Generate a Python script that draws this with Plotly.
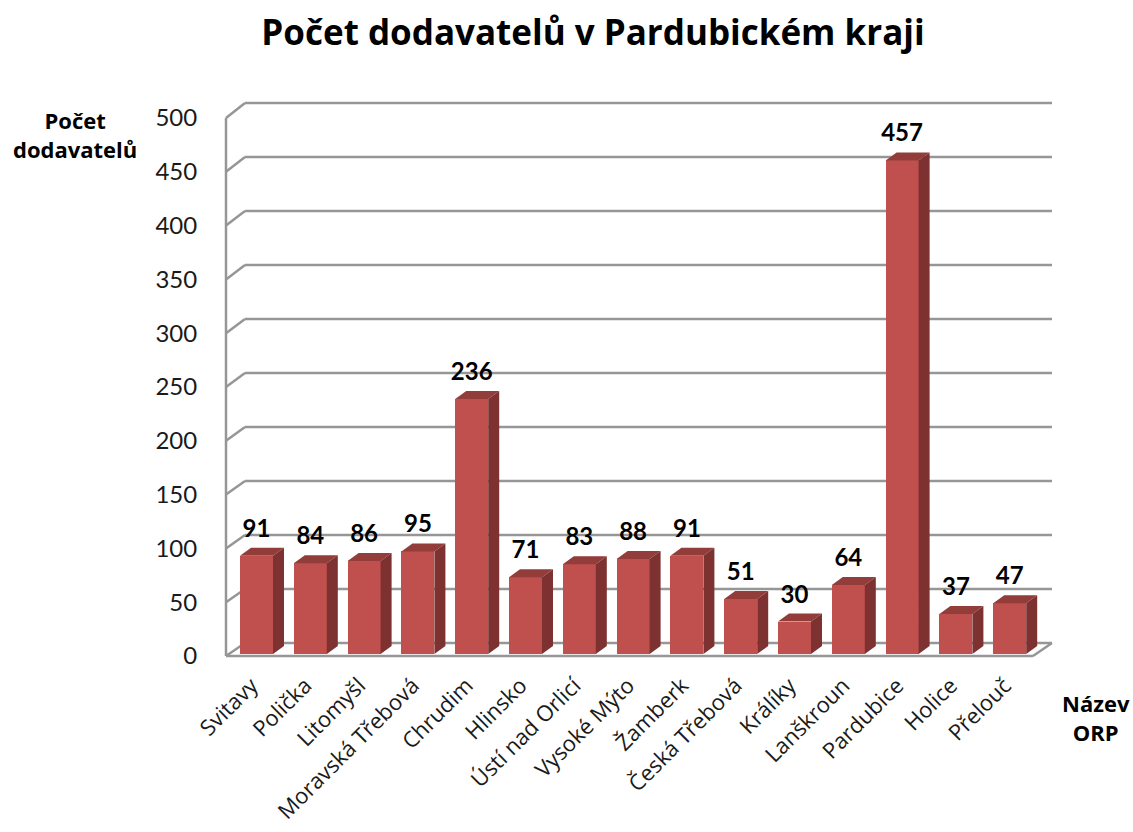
import plotly.graph_objects as go

categories = ["Svitavy", "Polička", "Litomyšl", "Moravská Třebová", "Chrudim", "Hlinsko",
              "Ústí nad Orlicí", "Vysoké Mýto", "Žamberk", "Česká Třebová", "Králíky",
              "Lanškroun", "Pardubice", "Holice", "Přelouč"]
values = [91, 84, 86, 95, 236, 71, 83, 88, 91, 51, 30, 64, 457, 37, 47]
y_ticks = [0, 50, 100, 150, 200, 250, 300, 350, 400, 450, 500]

TITLE = "Počet dodavatelů v Pardubickém kraji"
Y_NAME = "Počet<br>dodavatelů"
X_NAME = "Název<br>ORP"

# geometry of the pseudo-3D look (pixels)
L, R, T, B = 215, 1060, 95, 662
PX_CAT, X0 = 53.8, 256.5       # px per category, px of category 0
PX_VAL, Y0 = 1.08, 654         # px per value, px of value 0 for the bars
TICK_PX, TICK_Y0 = 1.076, 656  # tick-label axis, front of the box
BAR_W = 33 / PX_CAT
DX_BAR, DY_BAR = 11 / PX_CAT, 8 / PX_VAL
FRONT_X, BACK_X, END_FRONT, END_BACK = [(p - X0) / PX_CAT for p in (226, 245, 1033, 1052)]
BACK_DY = 11 / PX_VAL
LABEL_SHIFT = 5 / PX_CAT

xr = [(L - X0) / PX_CAT, (R - X0) / PX_CAT]
yr = [(Y0 - B) / PX_VAL, (Y0 - T) / PX_VAL]
y2r = [(TICK_Y0 - B) / TICK_PX, (TICK_Y0 - T) / TICK_PX]


def front_y(v):
    return (Y0 - (TICK_Y0 - TICK_PX * v)) / PX_VAL


GRID = "#969696"
FONT = "Lato, Carlito, sans-serif"
WIDE = "'Open Sans', sans-serif"
line = dict(color=GRID, width=2.5)
shapes = []


def seg(x0, y0, x1, y1):
    shapes.append(dict(type="line", xref="x", yref="y", x0=x0, y0=y0, x1=x1, y1=y1,
                       line=line, layer="below"))


for v in y_ticks:
    seg(FRONT_X, front_y(v), BACK_X, v + BACK_DY)
    seg(BACK_X, v + BACK_DY, END_BACK, v + BACK_DY)
seg(FRONT_X, front_y(0), FRONT_X, front_y(500))
seg(FRONT_X, front_y(0), END_FRONT, front_y(0))
seg(END_FRONT, front_y(0), END_BACK, BACK_DY)

xs = list(range(len(categories)))
fig = go.Figure()
fig.add_bar(x=xs, y=values, width=BAR_W, marker=dict(color="#C0504D", line=dict(width=0)),
            showlegend=False, hoverinfo="skip")

top_x, top_y, side_x, side_y = [], [], [], []
for i, v in zip(xs, values):
    a, b = i - BAR_W / 2, i + BAR_W / 2
    top_x += [a, b, b + DX_BAR, a + DX_BAR, a, None]
    top_y += [v, v, v + DY_BAR, v + DY_BAR, v, None]
    side_x += [b, b + DX_BAR, b + DX_BAR, b, b, None]
    side_y += [0, DY_BAR, v + DY_BAR, v, 0, None]
fig.add_scatter(x=top_x, y=top_y, mode="lines", fill="toself", fillcolor="#933D3B",
                line=dict(width=0), showlegend=False, hoverinfo="skip")
fig.add_scatter(x=side_x, y=side_y, mode="lines", fill="toself", fillcolor="#7D3130",
                line=dict(width=0), showlegend=False, hoverinfo="skip")
fig.add_scatter(x=xs, y=[v + 12 for v in values], mode="text", text=[str(v) for v in values],
                textposition="top center",
                textfont=dict(family=FONT, size=24, color="#000000", weight="bold"),
                showlegend=False, hoverinfo="skip", cliponaxis=False)
# invisible trace that carries the tick-label axis
fig.add_scatter(x=[xs[0]], y=[0], yaxis="y2", mode="markers", marker=dict(opacity=0),
                showlegend=False, hoverinfo="skip")

fig.update_layout(
    width=1133, height=832, autosize=False,
    margin=dict(l=L, r=1133 - R, t=T, b=832 - B, pad=0, autoexpand=False),
    plot_bgcolor="white", paper_bgcolor="white",
    bargap=0,
    shapes=shapes,
    font=dict(family=FONT, color="#1a1a1a"),
    title=dict(text=TITLE, x=593 / 1133, y=1 - 33 / 832, xanchor="center", yanchor="middle",
               font=dict(family=WIDE, size=35, color="#000000", weight="bold")),
    xaxis=dict(range=xr, tickvals=[i - LABEL_SHIFT for i in xs], ticktext=categories, tickangle=-45,
               showgrid=False, zeroline=False, showline=False, ticks="outside", ticklen=1,
               tickcolor="rgba(0,0,0,0)", automargin=False,
               tickfont=dict(family=WIDE, size=22, color="#1a1a1a")),
    yaxis=dict(range=yr, visible=False, showgrid=False, zeroline=False, automargin=False),
    yaxis2=dict(range=y2r, overlaying="y", side="left", anchor="x", tickvals=y_ticks,
                showgrid=False, zeroline=False, showline=False, ticks="outside", ticklen=12,
                automargin=False, tickcolor="rgba(0,0,0,0)",
                tickfont=dict(family=FONT, size=24, color="#1a1a1a")),
    annotations=[
        dict(text=Y_NAME, xref="paper", yref="paper", x=(75 - L) / (R - L), y=(B - 134) / (B - T),
             xanchor="center", yanchor="middle", showarrow=False,
             font=dict(family=WIDE, size=22, color="#000000", weight="bold")),
        dict(text=X_NAME, xref="paper", yref="paper", x=(1096 - L) / (R - L), y=(B - 717) / (B - T),
             xanchor="center", yanchor="middle", showarrow=False,
             font=dict(family=WIDE, size=22, color="#000000", weight="bold")),
    ],
)
fig.write_html("out.html", post_script="document.body.style.margin='0';",
               config=dict(displayModeBar=False))
